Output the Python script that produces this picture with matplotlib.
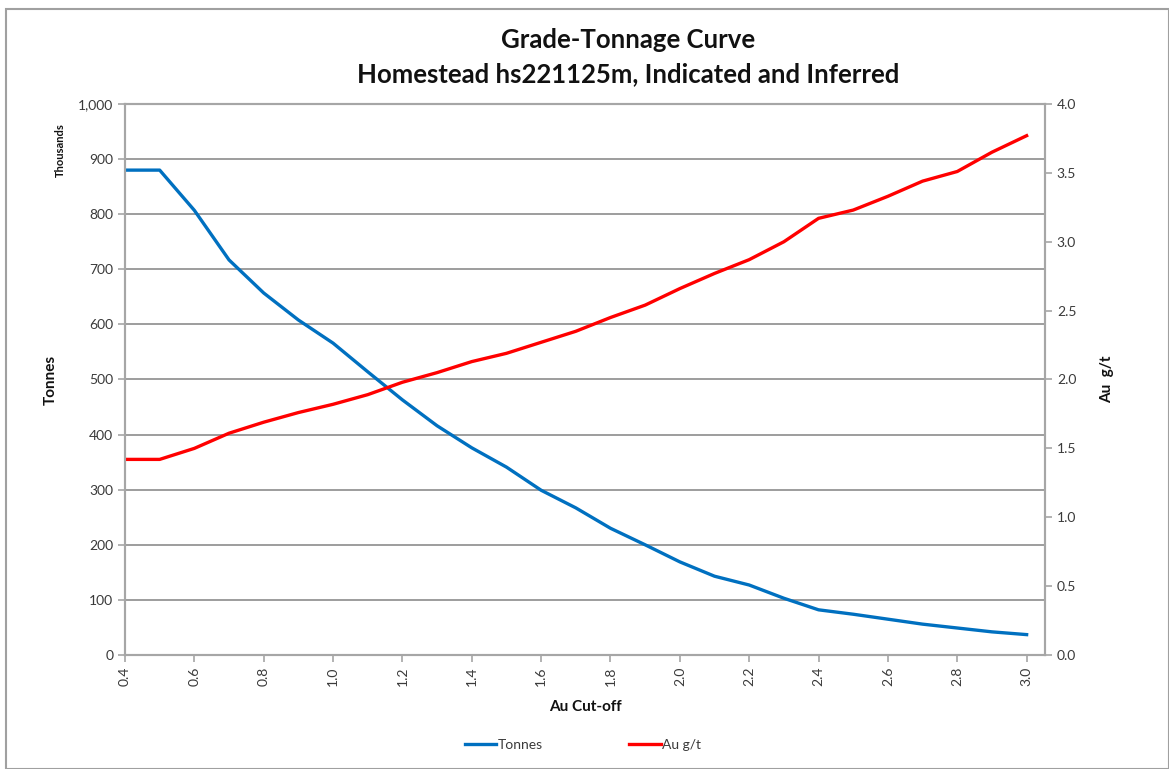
import numpy as np
import matplotlib.pyplot as plt
from matplotlib.patches import Rectangle
from matplotlib.ticker import FuncFormatter

plt.rcParams['font.family'] = ['Lato', 'DejaVu Sans']

# cut-off grades (categories on the x axis)
cutoff = [0.4, 0.5, 0.6, 0.7, 0.8, 0.9, 1.0, 1.1, 1.2, 1.3, 1.4, 1.5, 1.6, 1.7,
          1.8, 1.9, 2.0, 2.1, 2.2, 2.3, 2.4, 2.5, 2.6, 2.7, 2.8, 2.9, 3.0]
# tonnes above cut-off, thousands
tonnes = [880, 880, 807, 717, 657, 608, 566, 514, 463, 416, 376, 341, 299, 267,
          230, 200, 169, 143, 127, 103, 82, 74, 65, 56, 49, 42, 37]
# average grade above cut-off, g/t
grade = [1.42, 1.42, 1.50, 1.61, 1.69, 1.76, 1.82, 1.89, 1.98, 2.05, 2.13, 2.19, 2.27, 2.35,
         2.45, 2.54, 2.66, 2.77, 2.87, 3.00, 3.17, 3.23, 3.33, 3.44, 3.51, 3.65, 3.77]
xticks = [0.4, 0.6, 0.8, 1.0, 1.2, 1.4, 1.6, 1.8, 2.0, 2.2, 2.4, 2.6, 2.8, 3.0]

txt = '#3a3a3a'
grid = '#8c8c8c'

fig = plt.figure(figsize=(11.69, 7.69), dpi=100)
ax = fig.add_axes([125 / 1169, 1 - 655 / 769, (1045 - 125) / 1169, (655 - 104) / 769])
ax2 = ax.twinx()

l1, = ax.plot(cutoff, tonnes, color='#0070C0', lw=2.4, label='Tonnes', solid_joinstyle='round')
l2, = ax2.plot(cutoff, grade, color='#FF0000', lw=2.4, label='Au g/t', solid_joinstyle='round')
ax2.set_zorder(ax.get_zorder() + 1)
ax2.patch.set_visible(False)

ax.set_xlim(0.4, 3.053)
ax.set_ylim(0, 1000)
ax2.set_ylim(0, 4.0)
ax.set_yticks(np.arange(0, 1001, 100))
ax2.set_yticks(np.arange(0, 4.01, 0.5))
ax.set_xticks(xticks)
ax.set_xticklabels(['%.1f' % v for v in xticks], rotation=90)
ax.yaxis.set_major_formatter(FuncFormatter(lambda v, p: '{:,.0f}'.format(v)))
ax2.yaxis.set_major_formatter(FuncFormatter(lambda v, p: '%.1f' % v))

ax.grid(axis='y', color=grid, lw=1.2)
ax.set_axisbelow(True)
for a in (ax, ax2):
    for s in a.spines.values():
        s.set_color('#a6a6a6')
        s.set_linewidth(1.5)
    a.tick_params(colors='#a6a6a6', labelcolor=txt, labelsize=10, length=5, width=1.2)
ax.tick_params(axis='y', direction='out')

ax.set_ylabel('Tonnes', fontsize=11, fontweight='bold', color='#111111')
ax.yaxis.set_label_coords(-0.073, 0.5)
ax2.set_ylabel('Au  g/t', fontsize=11, fontweight='bold', color='#111111')
ax2.yaxis.set_label_coords(1.06, 0.5)
ax.set_xlabel('Au Cut-off', fontsize=11, fontweight='bold', color='#111111')
ax.xaxis.set_label_coords(0.5, -0.082)
fig.text(60 / 1169, 1 - 150 / 769, 'Thousands', rotation=90, fontsize=8, fontweight='bold',
         color='#111111', ha='center', va='center')

fig.text(628 / 1169, 1 - 40 / 769, 'Grade-Tonnage Curve', ha='center', va='center',
         fontsize=18.5, fontweight='bold', color='#111111')
fig.text(628 / 1169, 1 - 74 / 769, 'Homestead hs221125m, Indicated and Inferred', ha='center',
         va='center', fontsize=18.5, fontweight='bold', color='#111111')

fig.legend(handles=[l1, l2], loc='center', bbox_to_anchor=(583 / 1169, 1 - 745 / 769),
           ncol=2, frameon=False, fontsize=10, handlelength=2.3, handletextpad=0.1,
           columnspacing=6.2, labelcolor=txt)

fig.patches.append(Rectangle((6 / 1169, 0), 1 - 6 / 1169, 1 - 9 / 769, transform=fig.transFigure,
                             fill=False, edgecolor='#a0a0a0', lw=1.5))

fig.savefig('out.png', dpi=100)
